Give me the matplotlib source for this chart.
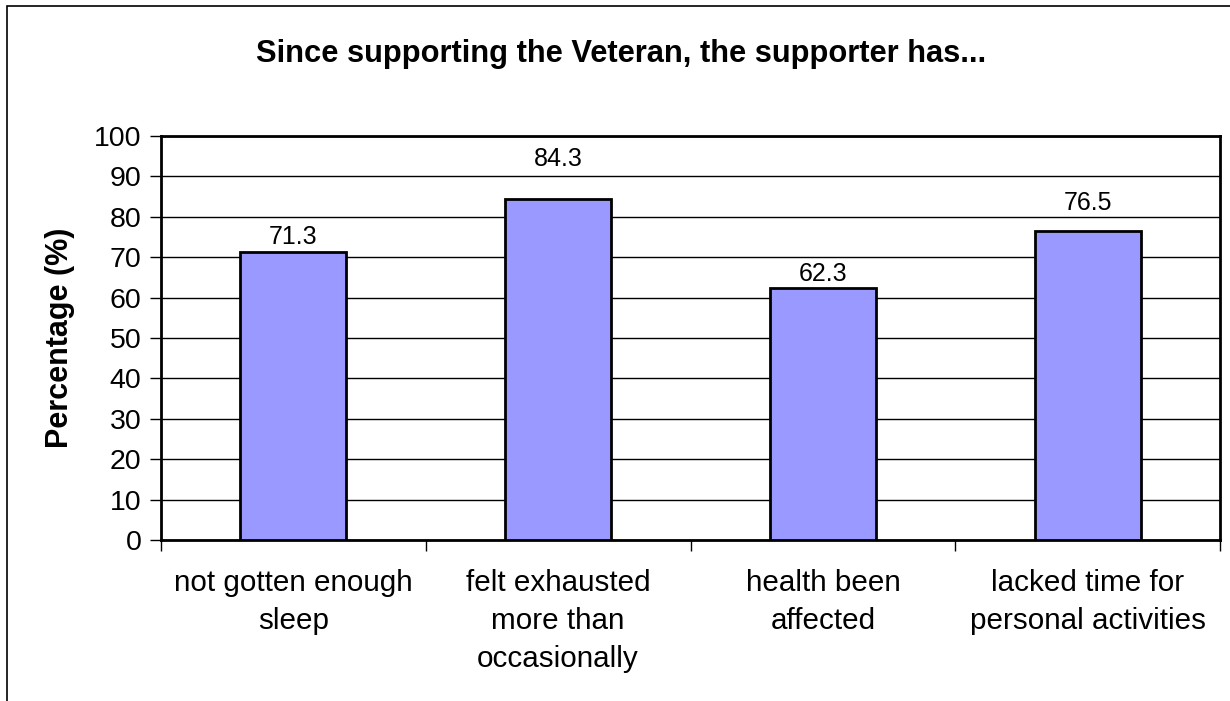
import matplotlib
matplotlib.use("Agg")
import matplotlib.pyplot as plt
from matplotlib.patches import Rectangle
import numpy as np

plt.rcParams['font.family'] = ['Liberation Sans', 'DejaVu Sans']

categories = ["not gotten enough\nsleep",
              "felt exhausted\nmore than\noccasionally",
              "health been\naffected",
              "lacked time for\npersonal activities"]
values = [71.3, 84.3, 62.3, 76.5]
yticks = list(range(0, 101, 10))

title = "Since supporting the Veteran, the supporter has..."
ylabel = "Percentage (%)"

# gap (pixels) between each bar top and the baseline of its value label
label_gap_px = [8, 33, 7, 21]

fig = plt.figure(figsize=(12.3, 7.01), dpi=100)
fig.patch.set_facecolor("white")

# outer chart frame (left and top edges visible)
fig.add_artist(Rectangle((7 / 1230, -0.05), 1.2, 1 - 6 / 701 + 0.05,
                         transform=fig.transFigure, fill=False,
                         edgecolor="black", linewidth=1.2, zorder=0))

ax = fig.add_axes([161 / 1230, 1 - 540 / 701, (1220 - 161) / 1230, (540 - 136) / 701])

x = np.arange(len(values))
ax.bar(x, values, width=0.4, color="#9999FF", edgecolor="black",
       linewidth=2, zorder=3)

for xi, v, gap in zip(x, values, label_gap_px):
    ax.annotate(f"{v:.1f}", (xi, v), xytext=(0, gap * 0.72), textcoords="offset points",
                ha="center", va="baseline", fontsize=18)

ax.set_xlim(-0.5, len(values) - 0.5)
ax.set_ylim(0, 100)
ax.set_yticks(yticks)
ax.set_yticklabels([str(t) for t in yticks], fontsize=20.5)
ax.yaxis.grid(True, color="black", linewidth=1, zorder=0)
ax.set_axisbelow(True)

ax.set_xticks(x)
ax.set_xticklabels(categories, fontsize=21.3, linespacing=1.45)
ax.tick_params(axis="x", length=0, pad=21)
ax.set_xticks(np.arange(-0.5, len(values), 1.0), minor=True)
ax.tick_params(axis="x", which="minor", length=8, width=1, direction="out")
ax.tick_params(axis="y", length=8, width=1, direction="out", pad=6)

for s in ax.spines.values():
    s.set_linewidth(2)
    s.set_color("black")

ax.set_ylabel(ylabel, fontsize=22, fontweight="bold", labelpad=14)
fig.text(621 / 1230, 1 - 54 / 701, title, ha="center", va="center",
         fontsize=22.2, fontweight="bold")

fig.savefig("out.png", dpi=100)
